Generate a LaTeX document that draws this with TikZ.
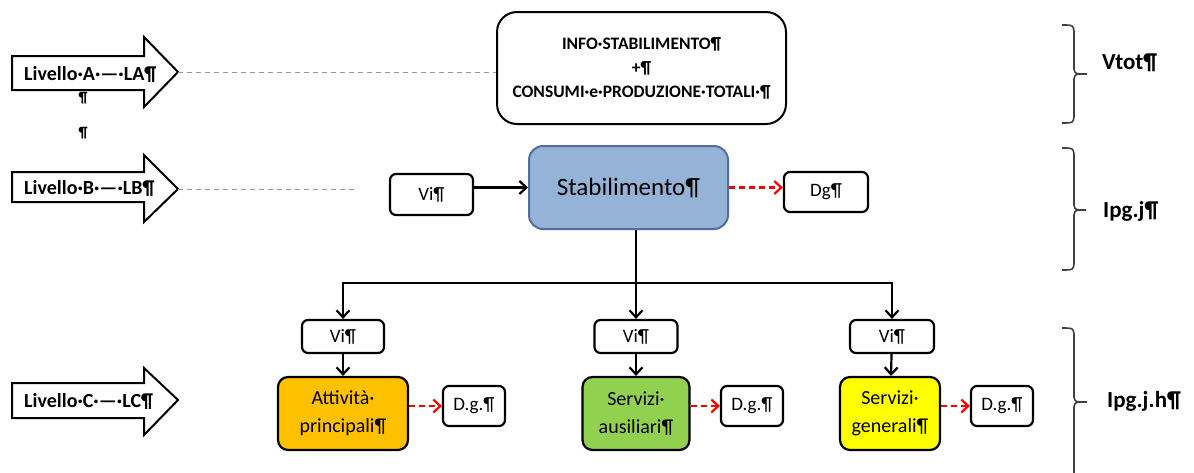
\documentclass[tikz,border=0pt]{standalone}
\usepackage{fontspec}
\setmainfont{Carlito}
\usetikzlibrary{arrows.meta,calc}
\definecolor{stabfill}{RGB}{149,179,215}
\definecolor{stabdraw}{RGB}{80,110,160}
\definecolor{attfill}{RGB}{255,192,0}
\definecolor{ausfill}{RGB}{146,208,80}
\definecolor{genfill}{RGB}{255,255,0}
\definecolor{bracegray}{RGB}{64,64,64}
\definecolor{dashgray}{RGB}{150,150,150}
\begin{document}
\begin{tikzpicture}[x=1pt,y=-1pt,
  box/.style={draw=black, line width=2.2pt, rounded corners=6pt, fill=white, inner sep=0pt, align=center, font=\fontsize{19}{22}\selectfont},
  cbox/.style={box, rounded corners=10pt, minimum height=73pt, font=\fontsize{20}{28}\selectfont},
  lvl/.style={font=\bfseries\fontsize{20}{22}\selectfont, inner sep=0pt, anchor=west},
  blockarrow/.style={draw=black, line width=2pt, fill=white, line join=miter},
  conn/.style={draw=black, line width=2.2pt, -{Straight Barb[length=7pt,width=13pt,line width=2.2pt]}},
  redconn/.style={draw=red, line width=2.2pt, dash pattern=on 6pt off 4pt, -{Straight Barb[length=7pt,width=13pt,line width=2.2pt]}},
  guide/.style={draw=dashgray, line width=1pt, dash pattern=on 5pt off 4pt},
  bracket/.style={draw=bracegray, line width=1.6pt},
  lbl/.style={font=\bfseries\fontsize{23}{26}\selectfont, inner sep=0pt, anchor=west}
]
\useasboundingbox (0,0) rectangle (1194,472);

% block arrows
\draw[blockarrow] (12,56) -- (144,56) -- (144,37) -- (178,72) -- (144,107) -- (144,90) -- (12,90) -- cycle;
\draw[blockarrow] (12,172) -- (144,172) -- (144,155) -- (178,189) -- (144,222) -- (144,202) -- (12,202) -- cycle;
\draw[blockarrow] (12,383) -- (144,383) -- (144,368) -- (178,400) -- (144,435) -- (144,418) -- (12,418) -- cycle;
\coordinate (tipA) at (178,72);
\coordinate (tipB) at (178,189);
\coordinate (endB) at (358,189);
\node[lvl] (lA) at (24,74) {Livello·A·—·LA¶};
\node[lvl] (lB) at (24,188) {Livello·B·—·LB¶};
\node[lvl] (lC) at (24,401) {Livello·C·—·LC¶};
\node[font=\bfseries\fontsize{15}{16}\selectfont, inner sep=0pt] (p1) at (83,98) {¶};
\node[font=\bfseries\fontsize{15}{16}\selectfont, inner sep=0pt] (p2) at (83,133) {¶};

% top box
\node[box, rounded corners=20pt, line width=2pt, minimum width=289pt, minimum height=112pt,
      font=\bfseries\fontsize{17.5}{24}\selectfont] (info) at (641.5,68) {INFO·STABILIMENTO¶\\+¶\\CONSUMI·e·PRODUZIONE·TOTALI·¶};
\draw[guide] (tipA) -- (info.west |- tipA);
\draw[guide] (tipB) -- (endB);

% level B
\node[box, draw=stabdraw, fill=stabfill, line width=2pt, rounded corners=14pt, minimum width=199pt, minimum height=83pt,
      font=\fontsize{25}{30}\selectfont] (stab) at (628.5,187.5) {Stabilimento¶};
\node[box, minimum width=83pt, minimum height=41pt] (viB) at (431.5,194.5) {Vi¶};
\node[box, minimum width=84pt, minimum height=40pt] (dg) at (826,192) {Dg¶};
\draw[conn] (viB.east |- stab) -- (stab.west);
\draw[redconn] (stab.east) -- (stab.east -| dg.west);

% level C
\node[box, minimum width=82pt, minimum height=33pt] (vi1) at (343,336.5) {Vi¶};
\node[box, minimum width=83pt, minimum height=33pt] (vi2) at (636,336.5) {Vi¶};
\node[box, minimum width=84pt, minimum height=33pt] (vi3) at (892,336.5) {Vi¶};
\node[cbox, fill=attfill, minimum width=130pt] (att) at (343,413.5) {Attività·\\principali¶};
\node[cbox, fill=ausfill, minimum width=107pt] (aus) at (636,413.5) {Servizi·\\ausiliari¶};
\node[cbox, fill=genfill, minimum width=100pt] (gen) at (890,413.5) {Servizi·\\generali¶};
\node[box, minimum width=62pt, minimum height=40pt] (dg1) at (474,406) {D.g.¶};
\node[box, minimum width=62pt, minimum height=40pt] (dg2) at (752,406) {D.g.¶};
\node[box, minimum width=62pt, minimum height=40pt] (dg3) at (1002,406) {D.g.¶};

\coordinate (jn) at (636,283);
\draw[draw=black, line width=2.2pt] (stab.south -| jn) -- (jn);
\draw[conn] (jn) -| (vi1.north);
\draw[conn] (jn) -- (vi2.north);
\draw[conn] (jn) -| (vi3.north);
\draw[conn] (vi1) -- (att);
\draw[conn] (vi2) -- (aus);
\draw[conn] (vi3) -- (gen);
\draw[redconn] (att.east |- dg1) -- (dg1.west);
\draw[redconn] (aus.east |- dg2) -- (dg2.west);
\draw[redconn] (gen.east |- dg3) -- (dg3.west);

% braces
\draw[bracket] (1062,25) .. controls (1073,25) .. (1074,31) -- (1074,69) .. controls (1075,74) .. (1087,74)
               .. controls (1075,74) .. (1074,79) -- (1074,117) .. controls (1073,123) .. (1062,123);
\draw[bracket] (1062,148) .. controls (1073,148) .. (1074,154) -- (1074,205) .. controls (1075,210) .. (1086,210)
               .. controls (1075,210) .. (1074,215) -- (1074,264) .. controls (1073,270) .. (1062,270);
\draw[bracket] (1062,328) .. controls (1073,328) .. (1074,334) -- (1074,397) .. controls (1075,402) .. (1087,402)
               .. controls (1075,402) .. (1074,407) -- (1074,480);
\node[lbl] (vtot) at (1102,63) {Vtot¶};
\node[lbl] (ipgj) at (1103,211) {Ipg.j¶};
\node[lbl] (ipgjh) at (1107,401) {Ipg.j.h¶};
\end{tikzpicture}
\end{document}
